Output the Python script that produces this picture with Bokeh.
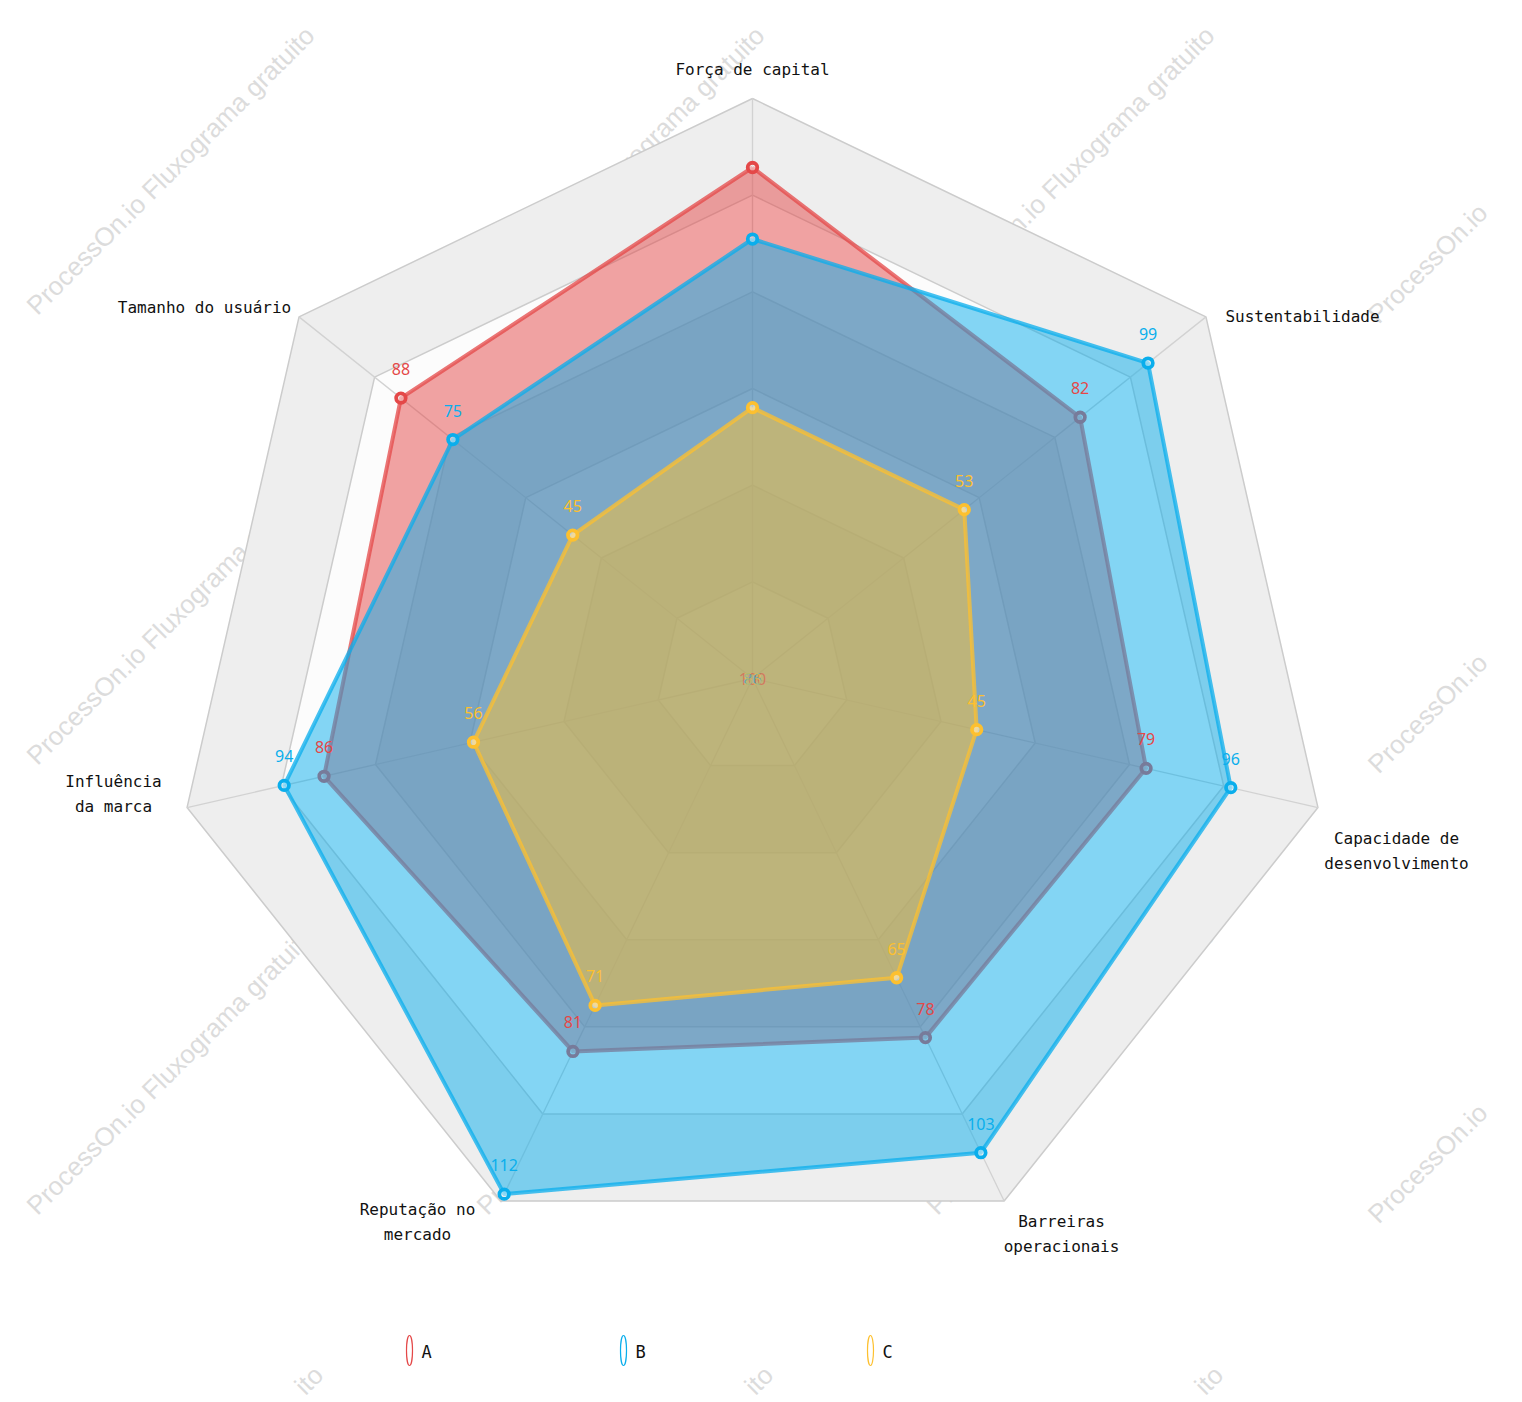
import math
from bokeh.plotting import figure
from bokeh.models import Range1d
from bokeh.embed import file_html
from bokeh.resources import INLINE
from bokeh.core.properties import value

# ---------------- data ----------------
indicators = ["Força de capital", "Sustentabilidade", "Capacidade de\ndesenvolvimento",
              "Barreiras\noperacionais", "Reputação no\nmercado", "Influência\nda marca",
              "Tamanho do usuário"]
series_names = ["A", "B", "C"]
values_A = [100, 82, 79, 78, 81, 86, 88]
values_B = [86, 99, 96, 103, 112, 94, 75]
values_C = [53, 53, 45, 65, 71, 56, 45]
series_values = [values_A, values_B, values_C]
colors = ["#e44848", "#0aaeec", "#fdc02f"]
radar_max = 113.5
split_number = 6
watermark_text = "ProcessOn.io Fluxograma gratuito"

# ---------------- layout ----------------
W, H = 1522, 1402
CX, CY = 752, 678
R_PX = 580
s = R_PX / radar_max  # px per value unit


def px(x, y):
    return (x - CX) / s, (CY - y) / s


p = figure(width=W, height=H,
           x_range=Range1d(-CX / s, (W - CX) / s),
           y_range=Range1d(-(H - CY) / s, CY / s),
           output_backend="svg", toolbar_location=None,
           x_axis_type=None, y_axis_type=None, min_border=0, title=None,
           outline_line_color=None, background_fill_color="white",
           border_fill_color="white")

# watermark (behind everything); tiles at the canvas edge show only their visible part
wm_style = dict(angle=math.pi / 4, text_baseline="middle",
                text_font=value("Liberation Sans"), text_font_size="26px",
                text_color="#dcdcdc")
full_x, full_y, frag_x, frag_y, frag_t, end_x, end_y, end_t = [], [], [], [], [], [], [], []
for gx in range(4):
    for gy in range(4):
        x0, y0 = 450 * gx, 450 * gy
        if gx < 3 and gy < 3:
            a, b = px(x0 + 170, y0 + 170)
            full_x.append(a)
            full_y.append(b)
        elif gy < 3:  # right column: start of the text only
            a, b = px(x0 + 22, y0 + 318)
            frag_x.append(a)
            frag_y.append(b)
            frag_t.append(watermark_text[:12])
        elif gx < 3:  # bottom row: end of the text only
            a, b = px(x0 + 318, y0 + 20)
            end_x.append(a)
            end_y.append(b)
            end_t.append(watermark_text[-3:])
p.text(full_x, full_y, text=[watermark_text] * len(full_x), text_align="center", **wm_style)
p.text(frag_x, frag_y, text=frag_t, text_align="left", **wm_style)
p.text(end_x, end_y, text=end_t, text_align="right", **wm_style)

n = len(indicators)
angs = [math.pi / 2 - 2 * math.pi * i / n for i in range(n)]
cs = [math.cos(a) for a in angs]
sn = [math.sin(a) for a in angs]

# split areas
band_xs, band_ys, band_cols = [], [], []
for k in range(split_number, 0, -1):
    r = radar_max * k / split_number
    band_xs.append([r * c for c in cs])
    band_ys.append([r * t for t in sn])
    band_cols.append("#eeeeee" if k % 2 == 0 else "#fcfcfc")
p.patches(band_xs, band_ys, fill_color=band_cols, line_color=None)

# split lines
ring_xs = [xs + [xs[0]] for xs in band_xs]
ring_ys = [ys + [ys[0]] for ys in band_ys]
p.multi_line(ring_xs, ring_ys, line_color="#cccccc", line_width=1.5)
spoke_xs = [[0, radar_max * c] for c in cs]
spoke_ys = [[0, radar_max * t] for t in sn]
p.multi_line(spoke_xs, spoke_ys, line_color="#d2d2d2", line_width=1.3)

# series
pts = []
for vals, col in zip(series_values, colors):
    xs = [v * c for v, c in zip(vals, cs)]
    ys = [v * t for v, t in zip(vals, sn)]
    pts.append((xs, ys))
    p.patch(xs, ys, fill_color=col, fill_alpha=0.5, line_color=None)
    p.line(xs + [xs[0]], ys + [ys[0]], line_color=col, line_width=4, line_alpha=0.75)
    p.scatter(xs, ys, marker="circle", size=9.5, line_color=col, line_width=3.8,
              fill_color="white", fill_alpha=0.45)

# data labels
for (xs, ys), vals, col in zip(pts, series_values, colors):
    p.text(xs[1:], ys[1:], text=[str(v) for v in vals[1:]], text_color=col,
           text_align="center", text_baseline="middle", y_offset=-29,
           text_font=value("Noto Sans"), text_font_size="16px")
    p.text([0], [0], text=[str(vals[0])], text_color=col, text_alpha=0.55,
           text_align="center", text_baseline="middle",
           text_font=value("Noto Sans"), text_font_size="16px")

# axis names (block centre x, first-line centre y, in px)
name_pos = [(752, 69), (1302, 316), (1396, 838), (1061, 1221),
            (417, 1209), (113, 781), (204, 307)]
line_h = 24.5
nx, ny, nt = [], [], []
for name, (bx, by) in zip(indicators, name_pos):
    for k, line in enumerate(name.split("\n")):
        a, b = px(bx, by + k * line_h)
        nx.append(a)
        ny.append(b)
        nt.append(line)
p.text(nx, ny, text=nt, text_color="#111111", text_align="center",
       text_baseline="middle", text_font=value("DejaVu Sans Mono"),
       text_font_size="16px")

# legend
leg_px = [(409, 1350), (623, 1350), (870, 1350)]
lx, ly, tx, ty = [], [], [], []
for (a0, b0) in leg_px:
    a, b = px(a0, b0)
    lx.append(a)
    ly.append(b)
    a, b = px(a0 + 12, b0 + 1)
    tx.append(a)
    ty.append(b)
p.ellipse(lx, ly, width=6, height=30, width_units="screen", height_units="screen",
          fill_color=None, line_color=colors, line_width=1.2)
p.text(tx, ty, text=series_names, text_color="#111111", text_align="left",
       text_baseline="middle", text_font=value("DejaVu Sans Mono"),
       text_font_size="17px")

open("out.html", "w").write(file_html(p, INLINE))
